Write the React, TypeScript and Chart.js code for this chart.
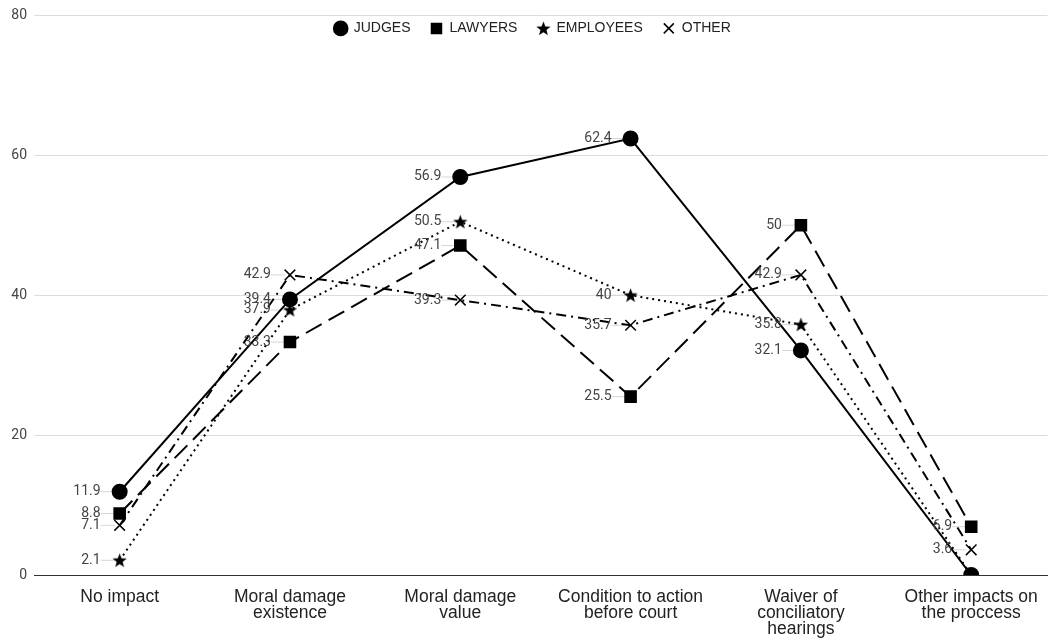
import React, { useEffect, useRef } from 'react';
import { Chart, registerables } from 'chart.js';

Chart.register(...registerables);

const categories: string[][] = [
  ['No impact'],
  ['Moral damage', 'existence'],
  ['Moral damage', 'value'],
  ['Condition to action', 'before court'],
  ['Waiver of', 'conciliatory', 'hearings'],
  ['Other impacts on', 'the proccess'],
];
const seriesNames = ['JUDGES', 'LAWYERS', 'EMPLOYEES', 'OTHER'];
const judges = [11.9, 39.4, 56.9, 62.4, 32.1, 0];
const lawyers = [8.8, 33.3, 47.1, 25.5, 50, 6.9];
const employees = [2.1, 37.9, 50.5, 40, 35.8, 0];
const other = [7.1, 42.9, 39.3, 35.7, 42.9, 3.6];
const yTicks = [0, 20, 40, 60, 80];

function makeStar(size: number): HTMLCanvasElement {
  const c = document.createElement('canvas');
  c.width = size;
  c.height = size;
  const ctx = c.getContext('2d')!;
  const cx = size / 2;
  const cy = size / 2 + 0.6;
  const R = size / 2;
  const r = R * 0.42;
  ctx.beginPath();
  for (let i = 0; i < 10; i++) {
    const a = -Math.PI / 2 + (i * Math.PI) / 5;
    const rad = i % 2 ? r : R;
    ctx.lineTo(cx + rad * Math.cos(a), cy + rad * Math.sin(a));
  }
  ctx.closePath();
  ctx.fillStyle = '#000';
  ctx.fill();
  return c;
}

const valueLabels = {
  id: 'valueLabels',
  beforeDatasetsDraw(chart: any) {
    const ctx = chart.ctx;
    chart.data.datasets.forEach((ds: any, di: number) => {
      const meta = chart.getDatasetMeta(di);
      meta.data.forEach((pt: any, i: number) => {
        const v = ds.data[i].y;
        if (!v) return;
        ctx.save();
        ctx.strokeStyle = '#d6d6d6';
        ctx.lineWidth = 1;
        ctx.beginPath();
        ctx.moveTo(pt.x - 19, pt.y);
        ctx.lineTo(pt.x - 5, pt.y);
        ctx.stroke();
        ctx.restore();
      });
    });
  },
  afterDatasetsDraw(chart: any) {
    const ctx = chart.ctx;
    chart.data.datasets.forEach((ds: any, di: number) => {
      const meta = chart.getDatasetMeta(di);
      meta.data.forEach((pt: any, i: number) => {
        const v = ds.data[i].y;
        if (!v) return;
        ctx.save();
        ctx.font = '14px Roboto';
        ctx.fillStyle = '#444';
        ctx.textAlign = 'right';
        ctx.textBaseline = 'middle';
        ctx.fillText(String(v), pt.x - 19, pt.y);
        ctx.restore();
      });
    });
  },
};

// Lay the legend out as one horizontal row inside the plot area, near its top.
const legendInPlot = {
  id: 'legendInPlot',
  beforeLayout(chart: any) {
    const l = chart.legend;
    if (l && !l.__patched) {
      l.isHorizontal = () => true;
      l.__patched = true;
    }
  },
  afterLayout(chart: any) {
    const l = chart.legend;
    const a = chart.chartArea;
    if (l && a) {
      l.left = a.left - 8;
      l.right = a.right - 8;
      l.width = l.right - l.left;
      l.top = a.top - 14;
      l.bottom = l.top + l.height;
    }
  },
};

export default function App() {
  const ref = useRef<HTMLCanvasElement>(null);

  useEffect(() => {
    if (!ref.current) return;
    const star = makeStar(15);
    const toXY = (arr: number[]) => arr.map((y, x) => ({ x, y }));
    const base = {
      borderColor: '#000',
      backgroundColor: '#000',
      pointBackgroundColor: '#000',
      pointBorderColor: '#000',
      borderWidth: 2,
      tension: 0,
      clip: 0,
      fill: false,
    };
    const chart = new Chart(ref.current, {
      type: 'line',
      data: {
        datasets: [
          { ...base, label: seriesNames[0], data: toXY(judges), pointStyle: 'circle', pointRadius: 7 },
          { ...base, label: seriesNames[1], data: toXY(lawyers), pointStyle: 'rect', pointRadius: 7.5, borderDash: [18, 8] },
          { ...base, label: seriesNames[2], data: toXY(employees), pointStyle: star as any, pointRadius: 7, borderDash: [2, 4] },
          { ...base, label: seriesNames[3], data: toXY(other), pointStyle: 'crossRot', pointRadius: 7.5, pointBorderWidth: 1.5, borderDash: [10, 5, 2, 5] },
        ],
      },
      options: {
        responsive: false,
        animation: false,
        devicePixelRatio: 1,
        layout: { padding: { top: 15, left: 0, right: 0, bottom: 0 } },
        plugins: {
          tooltip: { enabled: false },
          legend: {
            position: 'chartArea' as any,
            align: 'center',
            labels: {
              usePointStyle: true,
              boxWidth: 12,
              boxHeight: 10,
              padding: 20,
              color: '#222',
              font: { family: '"Liberation Sans", Arial, sans-serif', size: 14 },
              generateLabels: (c: any) => {
                const items = (Chart.defaults.plugins.legend.labels as any).generateLabels(c);
                return items.map((it: any) => ({ ...it, lineDash: [], lineWidth: 1.5 }));
              },
            },
          },
        },
        scales: {
          x: {
            type: 'linear',
            min: -0.503,
            max: 5.448,
            afterBuildTicks: (s: any) => {
              s.ticks = categories.map((_, i) => ({ value: i }));
            },
            afterFit: (s: any) => {
              s.height = 65;
            },
            grid: { display: false, drawTicks: false },
            border: { display: true, color: '#333', width: 1 },
            ticks: {
              padding: 14,
              color: '#222',
              maxRotation: 0,
              autoSkip: false,
              font: { family: '"Liberation Sans", Arial, sans-serif', size: 17.5, lineHeight: 0.92 },
              callback: (v: any) => categories[Math.round(Number(v))] ?? '',
            },
          },
          y: {
            type: 'linear',
            min: 0,
            max: 80,
            afterBuildTicks: (s: any) => {
              s.ticks = yTicks.map((v) => ({ value: v }));
            },
            afterFit: (s: any) => {
              s.width = 34;
            },
            grid: {
              drawTicks: false,
              color: (c: any) => (c.tick && c.tick.value === 0 ? '#333' : '#dcdcdc'),
            },
            border: { display: false },
            ticks: {
              padding: 7,
              color: '#444',
              font: { family: 'Roboto, sans-serif', size: 14 },
            },
          },
        },
      },
      plugins: [valueLabels, legendInPlot],
    });
    return () => chart.destroy();
  }, []);

  return (
    <div style={{ position: 'absolute', left: 0, top: 0, width: 1057, height: 640, background: '#fff' }}>
      <canvas ref={ref} width={1057} height={640} style={{ width: 1057, height: 640, display: 'block' }} />
    </div>
  );
}
